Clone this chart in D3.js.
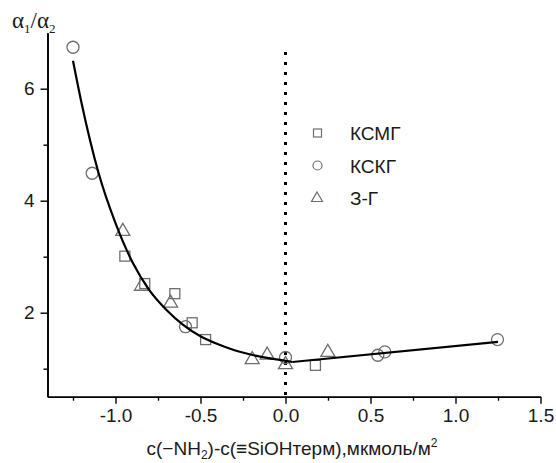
<!DOCTYPE html>
<html>
<head>
<meta charset="utf-8">
<script src="https://cdn.jsdelivr.net/npm/d3@7"></script>
<style>
  body { margin: 0; background: #fff; }
  text { font-family: "Liberation Sans", Arial, sans-serif; }
</style>
</head>
<body>
<div id="chart"></div>
<script>
var svgWidth = 556;
var svgHeight = 463;

// data
var ksmgX = [-0.945, -0.828, -0.651, -0.549, -0.47, 0.176];
var ksmgY = [3.01, 2.52, 2.34, 1.82, 1.52, 1.06];

var kskgX = [-1.25, -1.137, -0.588, 0.0, 0.543, 0.584, 1.247];
var kskgY = [6.74, 4.49, 1.75, 1.2, 1.24, 1.30, 1.52];

var zgX = [-0.957, -0.847, -0.676, -0.196, -0.108, 0.0, 0.249];
var zgY = [3.47, 2.49, 2.19, 1.18, 1.26, 1.09, 1.31];

// fitted line as drawn: curved part, then straight part
var fitLeftX = [-1.25, -1.2, -1.1, -1.0, -0.9, -0.8, -0.7, -0.6, -0.5, -0.4, -0.3, -0.2, -0.1, 0.0, 0.04];
var fitLeftY = [6.5, 5.75, 4.5, 3.6, 2.9, 2.4, 2.05, 1.78, 1.58, 1.44, 1.33, 1.25, 1.19, 1.14, 1.12];
var fitRightX = [0.04, 1.25];
var fitRightY = [1.12, 1.48];

var xMajor = [-1.0, -0.5, 0.0, 0.5, 1.0, 1.5];
var xMinor = [-1.25, -0.75, -0.25, 0.25, 0.75, 1.25];
var yMajor = [2, 4, 6];
var yMinor = [1, 3, 5];

var seriesNames = ["КСМГ", "КСКГ", "З-Г"];

var svg = d3.select("#chart")
  .append("svg")
  .attr("width", svgWidth)
  .attr("height", svgHeight);

var xScale = d3.scaleLinear().domain([-1.4, 1.5]).range([47.5, 540.5]);
var yScale = d3.scaleLinear().domain([0.5, 7]).range([396.7, 32.7]);

// axes
var xAxisMajor = d3.axisBottom(xScale)
  .tickValues(xMajor)
  .tickSize(7)
  .tickSizeOuter(0)
  .tickPadding(5)
  .tickFormat(d => d.toFixed(1));

var xAxisMinor = d3.axisBottom(xScale)
  .tickValues(xMinor)
  .tickSize(4)
  .tickSizeOuter(0)
  .tickFormat("");

var yAxisMajor = d3.axisLeft(yScale)
  .tickValues(yMajor)
  .tickSize(7)
  .tickSizeOuter(0)
  .tickPadding(6)
  .tickFormat(d => String(d));

var yAxisMinor = d3.axisLeft(yScale)
  .tickValues(yMinor)
  .tickSize(4)
  .tickSizeOuter(0)
  .tickFormat("");

var gx = svg.append("g").attr("transform", "translate(0,396.7)");
gx.append("g").call(xAxisMinor);
gx.append("g").call(xAxisMajor);

var gy = svg.append("g").attr("transform", "translate(47.5,0)");
gy.append("g").call(yAxisMinor);
gy.append("g").call(yAxisMajor);

svg.selectAll(".domain").attr("stroke", "#000").attr("stroke-width", 1.6);
svg.selectAll(".tick line").attr("stroke", "#000").attr("stroke-width", 1.4);
svg.selectAll(".tick text")
  .attr("font-family", "Liberation Sans, Arial, sans-serif")
  .attr("font-size", 19)
  .attr("fill", "#1a1a1a");

// dotted vertical line at zero
svg.append("line")
  .attr("x1", xScale(0)).attr("x2", xScale(0))
  .attr("y1", 52).attr("y2", 396.7)
  .attr("stroke", "#000")
  .attr("stroke-width", 3)
  .attr("stroke-dasharray", "3,7");

// markers
var markerColor = "#6e6e6e";

var squares = ksmgX.map((x, i) => ({x: x, y: ksmgY[i]}));
var circles = kskgX.map((x, i) => ({x: x, y: kskgY[i]}));
var triangles = zgX.map((x, i) => ({x: x, y: zgY[i]}));

svg.append("g").selectAll("rect")
  .data(squares)
  .enter()
  .append("rect")
  .attr("x", d => xScale(d.x) - 5)
  .attr("y", d => yScale(d.y) - 5)
  .attr("width", 10)
  .attr("height", 10)
  .attr("fill", "none")
  .attr("stroke", markerColor)
  .attr("stroke-width", 1.3);

svg.append("g").selectAll("circle")
  .data(circles)
  .enter()
  .append("circle")
  .attr("cx", d => xScale(d.x))
  .attr("cy", d => yScale(d.y))
  .attr("r", 6)
  .attr("fill", "none")
  .attr("stroke", markerColor)
  .attr("stroke-width", 1.3);

var triPath = "M0,-7L7,5L-7,5Z";
svg.append("g").selectAll("path")
  .data(triangles)
  .enter()
  .append("path")
  .attr("d", triPath)
  .attr("transform", d => `translate(${xScale(d.x)},${yScale(d.y)})`)
  .attr("fill", "none")
  .attr("stroke", markerColor)
  .attr("stroke-width", 1.3);

// fitted curve
var fitLeft = fitLeftX.map((x, i) => [x, fitLeftY[i]]);
var fitRight = fitRightX.map((x, i) => [x, fitRightY[i]]);

var curveLine = d3.line()
  .x(d => xScale(d[0]))
  .y(d => yScale(d[1]))
  .curve(d3.curveMonotoneX);

var straightLine = d3.line()
  .x(d => xScale(d[0]))
  .y(d => yScale(d[1]));

svg.append("path")
  .datum(fitLeft)
  .attr("d", curveLine)
  .attr("fill", "none")
  .attr("stroke", "#000")
  .attr("stroke-width", 2.2);

svg.append("path")
  .datum(fitRight)
  .attr("d", straightLine)
  .attr("fill", "none")
  .attr("stroke", "#000")
  .attr("stroke-width", 2.2);

// legend
var legend = svg.append("g");
var legendY = [133, 165.5, 197.5];

legend.append("rect")
  .attr("x", 313.5).attr("y", legendY[0] - 4)
  .attr("width", 8).attr("height", 8)
  .attr("fill", "none").attr("stroke", markerColor).attr("stroke-width", 1.2);
legend.append("circle")
  .attr("cx", 317.5).attr("cy", legendY[1]).attr("r", 4.5)
  .attr("fill", "none").attr("stroke", markerColor).attr("stroke-width", 1.2);
legend.append("path")
  .attr("d", "M0,-5.5L5.5,4L-5.5,4Z")
  .attr("transform", `translate(317,${legendY[2]})`)
  .attr("fill", "none").attr("stroke", markerColor).attr("stroke-width", 1.2);

legend.selectAll("text")
  .data(seriesNames)
  .enter()
  .append("text")
  .attr("x", 350)
  .attr("y", (d, i) => legendY[i] + 7)
  .attr("font-size", 19)
  .attr("fill", "#1a1a1a")
  .text(d => d);

// x axis title
var xt = svg.append("text")
  .attr("x", 292)
  .attr("y", 455)
  .attr("text-anchor", "middle")
  .attr("font-size", 19)
  .attr("fill", "#1a1a1a");
xt.append("tspan").text("c(\u2212NH");
xt.append("tspan").attr("font-size", 12).attr("dy", 4).text("2");
xt.append("tspan").attr("dy", -4).text(")-c(\u2261SiOHтерм),мкмоль/м");
xt.append("tspan").attr("font-size", 12).attr("dy", -8).text("2");

// y axis title
var yt = svg.append("text")
  .attr("x", 12)
  .attr("y", 28)
  .attr("font-size", 23)
  .attr("fill", "#1a1a1a");
yt.append("tspan").attr("font-family", "Liberation Serif, serif").text("α");
yt.append("tspan").attr("font-family", "Liberation Serif, serif").attr("font-size", 13).attr("dy", 5).text("1");
yt.append("tspan").attr("font-family", "Liberation Serif, serif").attr("dy", -5).text("/α");
yt.append("tspan").attr("font-family", "Liberation Serif, serif").attr("font-size", 13).attr("dy", 5).text("2");
</script>
</body>
</html>
